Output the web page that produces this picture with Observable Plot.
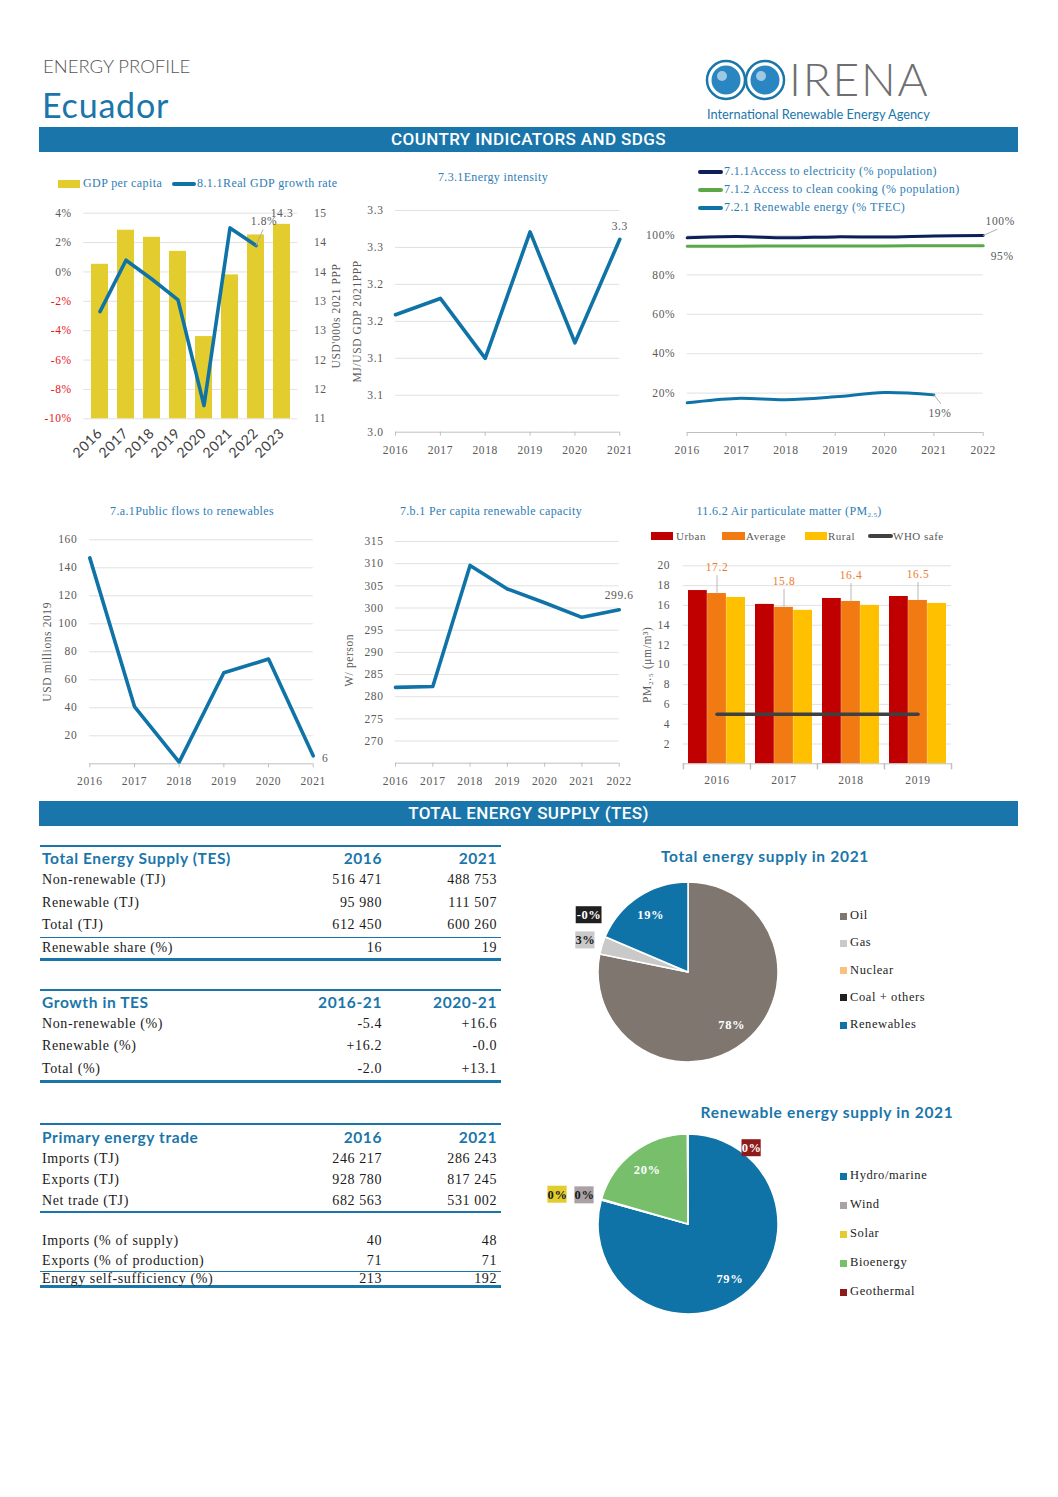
<!DOCTYPE html>
<html>
<head>
<meta charset="utf-8">
<script src="https://cdn.jsdelivr.net/npm/d3@7"></script>
<script src="https://cdn.jsdelivr.net/npm/@observablehq/plot@0.6"></script>
<style>
  html,body{margin:0;padding:0;background:#fff;}
  #page{position:relative;width:1058px;height:1497px;overflow:hidden;background:#fff;font-family:"Liberation Serif","DejaVu Serif",serif;}
  .band{position:absolute;left:39px;width:979px;height:25px;background:#1a76aa;color:#fff;font:500 17px Roboto,sans-serif;text-align:center;line-height:25px;letter-spacing:0.4px;}
  .tbl{position:absolute;left:40px;width:461px;}
  .tbl .row{display:flex;align-items:center;font-size:14px;color:#1a1a1a;letter-spacing:0.6px;}
  .tbl .row.hdr{font:700 15.5px Lato,sans-serif;color:#1a76aa;letter-spacing:0.6px;}
  .tbl .row .c0{flex:1;padding-left:2px;}
  .tbl .row .c1{width:104px;padding-right:4px;box-sizing:border-box;text-align:right;}
  .tbl .row .c2{width:115px;padding-right:4px;box-sizing:border-box;text-align:right;}
  .rule{background:#1a76aa;}
  sub{font-size:7px;vertical-align:-2px;}
</style>
</head>
<body>
<div id="page"></div>
<script>
// ================= DATA =================
const gdpYears = [2016, 2017, 2018, 2019, 2020, 2021, 2022, 2023];
const gdpPerCapita = [13.63, 14.21, 14.09, 13.85, 12.40, 13.45, 14.13, 14.31];
const growthYears = [2016, 2017, 2018, 2019, 2020, 2021, 2022];
const gdpGrowth = [-2.7, 0.8, -0.5, -1.9, -9.1, 3.0, 1.8];
const gdpPctTicks = [-10, -8, -6, -4, -2, 0, 2, 4];

const intensityYears = [2016, 2017, 2018, 2019, 2020, 2021];
const energyIntensity = [3.159, 3.181, 3.100, 3.271, 3.121, 3.261];
const intensityTicks = [3.0, 3.05, 3.1, 3.15, 3.2, 3.25, 3.3];
const intensityTickLabels = ["3.0", "3.1", "3.1", "3.2", "3.2", "3.3", "3.3"];

const accessYears = [2016, 2017, 2018, 2019, 2020, 2021, 2022];
const electricityAccess = [98.8, 99.5, 98.8, 99.3, 99.2, 99.8, 100.0];
const cookingAccess = [94.5, 94.6, 94.7, 94.7, 94.7, 94.8, 94.8];
const renewableYears = [2016, 2017, 2018, 2019, 2020, 2021];
const renewableShare = [15.1, 17.3, 16.6, 18.1, 20.3, 19.1];
const accessTicks = [20, 40, 60, 80, 100];

const flowYears = [2016, 2017, 2018, 2019, 2020, 2021];
const publicFlows = [147.1, 40.9, 1.2, 65.0, 74.8, 5.7];
const flowTicks = [20, 40, 60, 80, 100, 120, 140, 160];

const capacityYears = [2016, 2017, 2018, 2019, 2020, 2021, 2022];
const capacityPerCapita = [282.1, 282.3, 309.6, 304.3, 301.2, 297.9, 299.6];
const capacityTicks = [270, 275, 280, 285, 290, 295, 300, 305, 310, 315];

const pmYears = ["2016", "2017", "2018", "2019"];
const pmUrban = [17.5, 16.1, 16.7, 16.9];
const pmAverage = [17.2, 15.8, 16.4, 16.5];
const pmRural = [16.8, 15.5, 16.0, 16.2];
const pmWhoSafe = 5;
const pmTicks = [2, 4, 6, 8, 10, 12, 14, 16, 18, 20];

const tesHeader = ["Total Energy Supply (TES)", "2016", "2021"];
const tesRows = [
  ["Non-renewable (TJ)", "516 471", "488 753"],
  ["Renewable (TJ)", "95 980", "111 507"],
  ["Total (TJ)", "612 450", "600 260"]
];
const tesShareRow = ["Renewable share (%)", "16", "19"];

const growthHeader = ["Growth in TES", "2016-21", "2020-21"];
const growthRows = [
  ["Non-renewable (%)", "-5.4", "+16.6"],
  ["Renewable (%)", "+16.2", "-0.0"],
  ["Total (%)", "-2.0", "+13.1"]
];

const tradeHeader = ["Primary energy trade", "2016", "2021"];
const tradeRows = [
  ["Imports (TJ)", "246 217", "286 243"],
  ["Exports (TJ)", "928 780", "817 245"],
  ["Net trade (TJ)", "682 563", "531 002"]
];
const tradeShareRows = [
  ["Imports (% of supply)", "40", "48"],
  ["Exports (% of production)", "71", "71"]
];
const selfSufficiencyRow = ["Energy self-sufficiency (%)", "213", "192"];

const tesMixNames = ["Oil", "Gas", "Nuclear", "Coal + others", "Renewables"];
const tesMixShares = [78.2, 3.2, 0, -0.02, 18.6];
const tesMixColors = ["#7f776f", "#c9c9c9", "#fbbf80", "#1f1f1f", "#0f73a8"];

const reMixNames = ["Hydro/marine", "Wind", "Solar", "Bioenergy", "Geothermal"];
const reMixShares = [79.3, 0.1, 0.1, 20.4, 0.1];
const reMixColors = ["#0f73a8", "#a9a1a6", "#e3cc2e", "#77bf6b", "#8e1b1b"];

// ================= STYLE =================
const SERIF = '"Liberation Serif", "DejaVu Serif", serif';
const BLUE = "#1a76aa";
const LINE = "#0f73a8";
const GRID = "#d9d9d9";
const AXIS = "#bfbfbf";
const TXT = "#595959";
const TITLE = "#2e7db5";
const baseStyle = {fontFamily: SERIF, fontSize: "11.5px", color: TXT, background: "none", overflow: "visible", letterSpacing: "0.6px"};
const leaderShape = {draw(context, length) { context.moveTo(0, 0); context.lineTo(0, -length); }};

const page = document.getElementById("page");
function mount(node, left, top) {
  node.style.position = "absolute";
  node.style.left = left + "px";
  node.style.top = top + "px";
  page.appendChild(node);
  return node;
}
function txt(s, x, y, css = {}, anchor = "middle") {
  const d = document.createElement("div");
  d.innerHTML = s;
  const tr = anchor === "middle" ? "translate(-50%,-50%)" : anchor === "start" ? "translate(0,-50%)" : "translate(-100%,-50%)";
  Object.assign(d.style, {position: "absolute", left: x + "px", top: y + "px", whiteSpace: "nowrap", lineHeight: "1.1", transform: tr}, css);
  page.appendChild(d);
  return d;
}
function box(x, y, w, h, color, extra = {}) {
  const d = document.createElement("div");
  Object.assign(d.style, {position: "absolute", left: x + "px", top: y + "px", width: w + "px", height: h + "px", background: color}, extra);
  page.appendChild(d);
}
const titleCss = {fontFamily: SERIF, fontSize: "12px", color: TITLE, letterSpacing: "0.35px"};
const legendCss = {fontFamily: SERIF, fontSize: "12px", color: TITLE, letterSpacing: "0.4px"};

// ================= HEADER =================
txt("ENERGY PROFILE", 43, 66, {font: "300 18.5px Lato, sans-serif", color: "#555", letterSpacing: "0px"}, "start");
txt("Ecuador", 42, 105, {font: "400 34px Lato, sans-serif", color: BLUE, letterSpacing: "0.8px", lineHeight: "1"}, "start");
{
  const logo = d3.create("svg").attr("width", 90).attr("height", 50);
  for (const cx of [21, 60]) {
    logo.append("circle").attr("cx", cx).attr("cy", 22).attr("r", 19).attr("fill", "#fff").attr("stroke", BLUE).attr("stroke-width", 2.5);
    logo.append("circle").attr("cx", cx).attr("cy", 22).attr("r", 14.5).attr("fill", "#2a86c0");
    logo.append("circle").attr("cx", cx - 4).attr("cy", 18).attr("r", 5).attr("fill", "#fff").attr("opacity", 0.55);
  }
  mount(logo.node(), 705, 58);
}
txt("IRENA", 789, 78.5, {font: "300 46px Lato, sans-serif", color: "#6f6f72", letterSpacing: "1.8px", lineHeight: "0.9"}, "start");
txt("International Renewable Energy Agency", 707, 113.5, {font: "400 12.8px Lato, sans-serif", color: BLUE, lineHeight: "1"}, "start");

const band1 = document.createElement("div"); band1.className = "band"; band1.style.top = "127px"; band1.textContent = "COUNTRY INDICATORS AND SDGS"; page.appendChild(band1);
const band2 = document.createElement("div"); band2.className = "band"; band2.style.top = "801px"; band2.textContent = "TOTAL ENERGY SUPPLY (TES)"; page.appendChild(band2);

// ================= CHART 1: GDP =================
{
  const toLeft = v => (v - 11) * 4 - 10;
  const fromLeft = p => 11 + (p + 10) * 0.25;
  const bars = gdpYears.map((year, i) => ({year, value: gdpPerCapita[i]}));
  const growth = growthYears.map((year, i) => ({year, value: gdpGrowth[i]}));
  const lastGrowth = growth.slice(-1);
  const lastBar = bars.slice(-1);
  const svg = Plot.plot({
    width: 320, height: 270, marginLeft: 53.3, marginRight: 52.6, marginTop: 17.7, marginBottom: 46.7,
    style: baseStyle,
    x: {type: "band", domain: gdpYears, paddingInner: 0.33, paddingOuter: 0.165, axis: null},
    y: {domain: [-10, 4], axis: null},
    marks: [
      Plot.ruleY(gdpPctTicks, {stroke: GRID, strokeWidth: 0.8}),
      Plot.barY(bars, {x: "year", y1: -10, y2: d => toLeft(d.value), fill: "#e3cc2e"}),
      Plot.line(growth, {x: "year", y: "value", stroke: LINE, strokeWidth: 3.6}),
      Plot.text(lastBar, {x: "year", y: d => toLeft(d.value), text: d => d.value.toFixed(1), dy: -11, fill: TXT}),
      Plot.vector(lastGrowth, {x: "year", y: "value", rotate: 24, length: 17, anchor: "start", shape: leaderShape, stroke: "#a6a6a6", strokeWidth: 0.8}),
      Plot.text(lastGrowth, {x: "year", y: "value", text: d => d.value.toFixed(1) + "%", dx: 8, dy: -24, fill: TXT}),
      Plot.axisY(gdpPctTicks.filter(d => d >= 0), {anchor: "left", tickSize: 0, tickPadding: 12, tickFormat: d => d + "%", label: null, fill: TXT}),
      Plot.axisY(gdpPctTicks.filter(d => d < 0), {anchor: "left", tickSize: 0, tickPadding: 12, tickFormat: d => d + "%", label: null, fill: "#e8141b"}),
      Plot.axisY(gdpPctTicks, {anchor: "right", tickSize: 0, tickPadding: 16, tickFormat: d => String(Math.round(fromLeft(d))), label: null}),
      Plot.text(["USD'000s 2021 PPP"], {frameAnchor: "right", dx: 38, rotate: -90, textAnchor: "middle", text: d => d, fill: TXT}),
      Plot.axisX(gdpYears, {tickSize: 0, tickPadding: 12, tickRotate: -45, fontFamily: "Lato, sans-serif", fontSize: 14, fill: "#404040", label: null, tickFormat: d => String(d)})
    ]
  });
  mount(svg, 30, 195);
  box(58, 180, 22, 8, "#e3cc2e");
  txt("GDP per capita", 83, 184, legendCss, "start");
  box(172, 182, 24, 4, LINE, {borderRadius: "2px"});
  txt("8.1.1Real GDP growth rate", 197, 184, legendCss, "start");
}

// ================= CHART 2: Energy intensity =================
{
  const data = intensityYears.map((year, i) => ({year, value: energyIntensity[i]}));
  const svg = Plot.plot({
    width: 300, height: 270, marginLeft: 55, marginRight: 20.7, marginTop: 15, marginBottom: 33.3,
    style: baseStyle,
    x: {domain: [2016, 2021], axis: null},
    y: {domain: [3.0, 3.3], axis: null},
    marks: [
      Plot.ruleY(intensityTicks.slice(1), {stroke: GRID, strokeWidth: 0.8}),
      Plot.ruleY([3.0], {stroke: AXIS}),
      Plot.line(data, {x: "year", y: "value", stroke: LINE, strokeWidth: 3.6}),
      Plot.text(data.slice(-1), {x: "year", y: "value", text: d => d.value.toFixed(1), dy: -13, fill: TXT}),
      Plot.axisY(intensityTicks, {tickSize: 0, tickPadding: 12, tickFormat: d => intensityTickLabels[intensityTicks.indexOf(d)], label: null}),
      Plot.axisX(intensityYears, {tickSize: 4, tickPadding: 10, stroke: AXIS, tickFormat: d => String(d), label: null}),
      Plot.text(["MJ/USD GDP 2021PPP"], {frameAnchor: "left", dx: -38, rotate: -90, textAnchor: "middle", text: d => d, fill: TXT})
    ]
  });
  mount(svg, 340, 195);
  txt("7.3.1Energy intensity", 493, 178, titleCss);
}

// ================= CHART 3: Access =================
{
  const elec = accessYears.map((year, i) => ({year, value: electricityAccess[i]}));
  const cook = accessYears.map((year, i) => ({year, value: cookingAccess[i]}));
  const ren = renewableYears.map((year, i) => ({year, value: renewableShare[i]}));
  const svg = Plot.plot({
    width: 420, height: 250, marginLeft: 56.7, marginRight: 67.3, marginTop: 20, marginBottom: 33,
    style: baseStyle,
    x: {domain: [2016, 2022], axis: null},
    y: {domain: [0, 100], axis: null},
    marks: [
      Plot.ruleY(accessTicks, {stroke: GRID, strokeWidth: 0.8}),
      Plot.ruleY([0], {stroke: AXIS}),
      Plot.line(ren, {x: "year", y: "value", stroke: LINE, strokeWidth: 3, curve: "catmull-rom"}),
      Plot.line(cook, {x: "year", y: "value", stroke: "#5ba848", strokeWidth: 3, curve: "catmull-rom"}),
      Plot.line(elec, {x: "year", y: "value", stroke: "#0b1f5b", strokeWidth: 3, curve: "catmull-rom"}),
      Plot.vector(elec.slice(-1), {x: "year", y: "value", rotate: 66, length: 15, anchor: "start", shape: leaderShape, stroke: "#a6a6a6", strokeWidth: 0.8}),
      Plot.text(elec.slice(-1), {x: "year", y: "value", text: d => Math.round(d.value) + "%", dx: 17, dy: -14, fill: TXT}),
      Plot.text(cook.slice(-1), {x: "year", y: "value", text: d => Math.round(d.value) + "%", dx: 19, dy: 11, fill: TXT}),
      Plot.vector(ren.slice(-1), {x: "year", y: "value", rotate: 142, length: 11, anchor: "start", shape: leaderShape, stroke: "#a6a6a6", strokeWidth: 0.8}),
      Plot.text(ren.slice(-1), {x: "year", y: "value", text: d => Math.round(d.value) + "%", dx: 6, dy: 18, fill: TXT}),
      Plot.axisY(accessTicks, {tickSize: 0, tickPadding: 12, tickFormat: d => d + "%", label: null}),
      Plot.axisX(accessYears, {tickSize: 4, tickPadding: 9, stroke: AXIS, tickFormat: d => String(d), label: null})
    ]
  });
  mount(svg, 630, 215);
  const legend = [["7.1.1Access to electricity (% population)", "#0b1f5b"], ["7.1.2 Access to clean cooking (% population)", "#5ba848"], ["7.2.1 Renewable energy (% TFEC)", LINE]];
  legend.forEach(([label, color], i) => {
    const cy = 172 + i * 18;
    box(698, cy - 2, 25, 4, color, {borderRadius: "2px"});
    txt(label, 724, cy, legendCss, "start");
  });
}

// ================= CHART 4: Public flows =================
{
  const data = flowYears.map((year, i) => ({year, value: publicFlows[i]}));
  const svg = Plot.plot({
    width: 310, height: 270, marginLeft: 59.3, marginRight: 27.3, marginTop: 14.3, marginBottom: 31.7,
    style: baseStyle,
    x: {domain: [2016, 2021], axis: null},
    y: {domain: [0, 160], axis: null},
    marks: [
      Plot.ruleY(flowTicks, {stroke: GRID, strokeWidth: 0.8}),
      Plot.ruleY([0], {stroke: AXIS}),
      Plot.line(data, {x: "year", y: "value", stroke: LINE, strokeWidth: 3.6}),
      Plot.text(data.slice(-1), {x: "year", y: "value", text: d => String(Math.round(d.value)), dx: 12, dy: 2, fill: TXT}),
      Plot.axisY(flowTicks, {tickSize: 0, tickPadding: 12.5, label: null}),
      Plot.axisX(flowYears, {tickSize: 4, tickPadding: 9.5, stroke: AXIS, tickFormat: d => String(d), label: null}),
      Plot.text(["USD millions 2019"], {frameAnchor: "left", dx: -42, rotate: -90, textAnchor: "middle", text: d => d, fill: TXT})
    ]
  });
  mount(svg, 30, 525);
  txt("7.a.1Public flows to renewables", 192, 512, titleCss);
}

// ================= CHART 5: Per capita renewable capacity =================
{
  const data = capacityYears.map((year, i) => ({year, value: capacityPerCapita[i]}));
  const svg = Plot.plot({
    width: 300, height: 270, marginLeft: 55, marginRight: 21.3, marginTop: 16, marginBottom: 32.3,
    style: baseStyle,
    x: {domain: [2016, 2022], axis: null},
    y: {domain: [265, 315], axis: null},
    marks: [
      Plot.ruleY(capacityTicks, {stroke: GRID, strokeWidth: 0.8}),
      Plot.ruleY([265], {stroke: AXIS}),
      Plot.line(data, {x: "year", y: "value", stroke: LINE, strokeWidth: 3.6}),
      Plot.text(data.slice(-1), {x: "year", y: "value", text: d => d.value.toFixed(1), dy: -14, fill: TXT}),
      Plot.axisY(capacityTicks, {tickSize: 0, tickPadding: 12, label: null}),
      Plot.axisX(capacityYears, {tickSize: 4, tickPadding: 9.5, stroke: AXIS, tickFormat: d => String(d), label: null}),
      Plot.text(["W/ person"], {frameAnchor: "left", dx: -46, dy: 8, rotate: -90, textAnchor: "middle", text: d => d, fill: TXT})
    ]
  });
  mount(svg, 340, 525);
  txt("7.b.1 Per capita renewable capacity", 491, 512, titleCss);
}

// ================= CHART 6: PM2.5 =================
{
  const urban = pmYears.map((year, i) => ({year, value: pmUrban[i]}));
  const avg = pmYears.map((year, i) => ({year, value: pmAverage[i]}));
  const rural = pmYears.map((year, i) => ({year, value: pmRural[i]}));
  const who = pmYears.map(year => ({year, value: pmWhoSafe}));
  const W = 420, ML = 52.7, MR = 99;
  const step = (W - ML - MR) / pmYears.length;
  const bw = step * (1 - 0.146);
  const third = bw / 3;
  const svg = Plot.plot({
    width: W, height: 270, marginLeft: ML, marginRight: MR, marginTop: 35.3, marginBottom: 36.7,
    style: baseStyle,
    x: {type: "band", domain: pmYears, paddingInner: 0.146, paddingOuter: 0.073, axis: null},
    y: {domain: [0, 20], axis: null},
    marks: [
      Plot.ruleY(pmTicks, {stroke: GRID, strokeWidth: 0.8}),
      Plot.barY(urban, {x: "year", y: "value", fill: "#c00000", insetRight: 2 * third}),
      Plot.barY(avg, {x: "year", y: "value", fill: "#f27a12", insetLeft: third, insetRight: third}),
      Plot.barY(rural, {x: "year", y: "value", fill: "#ffc000", insetLeft: 2 * third}),
      Plot.ruleY([0], {stroke: AXIS}),
      Plot.vector(pmYears, {x: d => d, y: () => 0, rotate: 180, length: 5, anchor: "start", dx: -step / 2, shape: leaderShape, stroke: AXIS}),
      Plot.vector(pmYears.slice(-1), {x: d => d, y: () => 0, rotate: 180, length: 5, anchor: "start", dx: step / 2, shape: leaderShape, stroke: AXIS}),
      Plot.line(who, {x: "year", y: "value", stroke: "#404040", strokeWidth: 3.5}),
      Plot.vector(avg, {x: "year", y: "value", rotate: 0, length: 18, anchor: "start", shape: leaderShape, stroke: "#a6a6a6", strokeWidth: 0.8}),
      Plot.text(avg, {x: "year", y: "value", text: d => d.value.toFixed(1), dy: -26, fill: "#ee7d2b", fontSize: 11.5}),
      Plot.axisY(pmTicks, {tickSize: 0, tickPadding: 13, label: null}),
      Plot.axisX(pmYears, {tickSize: 0, tickPadding: 12, label: null}),
      Plot.text(["PM₂.₅ (μm/m³)"], {frameAnchor: "left", dx: -36, rotate: -90, textAnchor: "middle", text: d => d, fill: TXT})
    ]
  });
  mount(svg, 630, 530);
  txt("11.6.2 Air particulate matter (PM<sub>2.5</sub>)", 789, 512, titleCss);
  const lg = {fontFamily: SERIF, fontSize: "11px", color: TXT, letterSpacing: "0.5px"};
  box(651, 532, 22, 8, "#c00000"); txt("Urban", 676, 536, lg, "start");
  box(722, 532, 23, 8, "#f27a12"); txt("Average", 746, 536, lg, "start");
  box(805, 532, 22, 8, "#ffc000"); txt("Rural", 828, 536, lg, "start");
  box(868, 534, 25, 4, "#404040", {borderRadius: "2px"}); txt("WHO safe", 893, 536, lg, "start");
}

// ================= TABLES =================
function buildTable(top, parts) {
  const t = document.createElement("div");
  t.className = "tbl";
  t.style.top = top + "px";
  for (const p of parts) {
    const d = document.createElement("div");
    if (p.rule) { d.className = "rule"; d.style.height = p.rule + "px"; }
    else if (p.gap) { d.style.height = p.gap + "px"; }
    else {
      d.className = "row" + (p.header ? " hdr" : "");
      d.style.height = p.h + "px";
      d.innerHTML = p.cells.map((c, i) => `<div class="c${i}">${c}</div>`).join("");
    }
    t.appendChild(d);
  }
  page.appendChild(t);
}
buildTable(845, [
  {rule: 2}, {header: true, h: 22, cells: tesHeader},
  ...tesRows.map(cells => ({h: 22.5, cells})),
  {rule: 1.5}, {h: 19.5, cells: tesShareRow}, {rule: 3}
]);
buildTable(989, [
  {rule: 2}, {header: true, h: 22, cells: growthHeader},
  ...growthRows.map(cells => ({h: 22.3, cells})),
  {rule: 3}
]);
buildTable(1123, [
  {rule: 2}, {header: true, h: 23, cells: tradeHeader},
  ...tradeRows.map(cells => ({h: 21, cells})),
  {rule: 1.5}, {gap: 18.2},
  ...tradeShareRows.map(cells => ({h: 20, cells})),
  {rule: 1.5}, {h: 13, cells: selfSufficiencyRow}, {rule: 3}
]);

// ================= PIES =================
function drawPie(names, shares, colors, cx, cy, stackMode, legendTop, legendStep) {
  const data = names.map((name, i) => ({name, share: shares[i], color: colors[i]}));
  const arcs = d3.pie().sort(null).value(d => Math.max(0, d.share))(data);
  const labels = [];
  const outside = [];
  for (const a of arcs) {
    if (a.data.share === 0) continue;
    let mid = (a.startAngle + a.endAngle) / 2;
    const big = a.data.share >= 5;
    // outside labels near the top are swung to the right, clear of the title
    if (!big && Math.cos(mid) > 0.94) mid = Math.PI * 0.22;
    const k = big ? 0.76 : (Math.cos(mid) > 0.6 && Math.sin(mid) > 0 ? 1.1 : 1.2);
    const text = (a.data.share < 0 ? "-" : "") + Math.abs(Math.round(a.data.share)) + "%";
    const l = {x: Math.sin(mid) * k, y: Math.cos(mid) * k, text, big, color: a.data.color,
      light: d3.hsl(a.data.color).l > 0.5};
    if (!big) {
      for (const o of outside) {
        if (Math.abs(o.x - l.x) < 0.3 && Math.abs(o.y - l.y) < 0.28) {
          if (stackMode === "up") l.y = o.y + 0.28; else l.x = o.x - 0.3;
        }
      }
      outside.push(l);
    }
    labels.push(l);
  }
  const slices = (index, scales) => {
    const x0 = scales.x(0), y0 = scales.y(0), r = scales.x(1) - scales.x(0);
    const arc = d3.arc().innerRadius(0).outerRadius(r);
    const g = d3.create("svg:g").attr("transform", `translate(${x0},${y0})`);
    g.selectAll("path").data(arcs).join("path")
      .attr("d", arc).attr("fill", d => d.data.color)
      .attr("stroke", "#fff").attr("stroke-width", 1.5).attr("stroke-linejoin", "round");
    return g.node();
  };
  const boxes = (index, scales) => {
    const g = d3.create("svg:g");
    for (const l of outside) {
      const w = l.text.length * 6.6 + 6, h = 17;
      g.append("rect").attr("x", scales.x(l.x) - w / 2).attr("y", scales.y(l.y) - h / 2)
        .attr("width", w).attr("height", h).attr("fill", l.color);
    }
    return g.node();
  };
  const R = 90, ML = 58, MR = 30, MT = 25, MB = 25;
  const textOpts = {x: "x", y: "y", text: "text", fontWeight: "bold", fontSize: 12.5, fontFamily: SERIF};
  const svg = Plot.plot({
    width: ML + 2 * R + MR, height: MT + 2 * R + MB, marginLeft: ML, marginRight: MR, marginTop: MT, marginBottom: MB,
    style: {...baseStyle, letterSpacing: "0.6px"},
    x: {type: "linear", domain: [-1, 1], axis: null},
    y: {type: "linear", domain: [-1, 1], axis: null},
    marks: [
      slices,
      boxes,
      Plot.text(labels.filter(l => l.big || !l.light), {...textOpts, fill: "#fff"}),
      Plot.text(labels.filter(l => !l.big && l.light), {...textOpts, fill: "#1a1a1a"})
    ]
  });
  mount(svg, cx - R - ML, cy - R - MT);
  names.forEach((name, i) => {
    const y = legendTop + i * legendStep;
    box(840, y - 3.5, 7, 7, colors[i]);
    txt(name, 850, y, {fontFamily: SERIF, fontSize: "12.5px", color: "#222", letterSpacing: "0.6px"}, "start");
  });
}
drawPie(tesMixNames, tesMixShares, tesMixColors, 688, 972, "up", 916, 27.3);
drawPie(reMixNames, reMixShares, reMixColors, 688, 1224, "left", 1176, 29);
const pieTitleCss = {font: "700 15.5px Lato, sans-serif", color: BLUE, letterSpacing: "0.7px"};
txt("Total energy supply in 2021", 765, 856, pieTitleCss);
txt("Renewable energy supply in 2021", 827, 1112, pieTitleCss);
</script>
</body>
</html>
